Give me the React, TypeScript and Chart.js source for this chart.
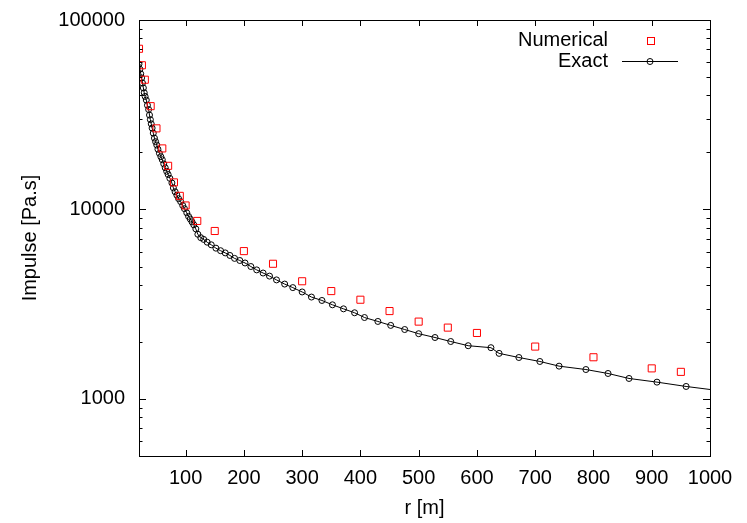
import React, { useEffect, useRef } from 'react';
import { Chart, registerables } from 'chart.js';

Chart.register(...registerables);

// Numerical results (red squares)
const numericalR = [20, 25, 30, 40, 50, 60, 70, 80, 90, 100, 120, 150, 200, 250, 300, 350, 400, 450, 500, 550, 600, 700, 800, 900, 950];
const numericalImpulse = [70500, 57700, 48400, 35100, 26800, 21000, 17000, 13900, 11800, 10500, 8700, 7700, 6030, 5170, 4180, 3710, 3340, 2910, 2560, 2380, 2230, 1890, 1660, 1450, 1390];

// Exact solution (black line with open circles); last entry is where the line leaves the frame
const exactR = [20, 21.5, 23, 24.5, 26, 27.5, 29, 30.5, 32.5, 34.5, 36.5, 38, 39.5, 41, 42.5, 44.5, 46.5, 48.5, 50.5, 52.5, 55, 57.5, 60, 62.5, 65, 67.5, 70, 73, 76.5, 79, 82, 85, 88, 91.5, 95, 98, 102, 105, 108, 111, 114, 117.5, 121, 126, 131, 137, 144, 152, 160, 168, 176, 184, 193, 202, 212, 222, 233, 244, 256, 270, 284, 300, 316, 334, 352, 371, 390, 407, 430, 452, 476, 500, 528, 555, 585, 624, 638, 672, 708, 741, 787, 825, 861, 909, 959, 1000];
const exactImpulse = [58500, 55000, 52000, 49500, 46500, 43800, 41300, 39500, 37800, 35500, 33700, 31500, 29800, 28300, 26900, 25300, 23800, 22800, 21900, 20800, 19800, 19000, 18300, 17400, 16600, 15900, 15300, 14600, 13800, 13000, 12400, 11900, 11400, 11000, 10500, 10100, 9600, 9200, 8900, 8600, 8300, 7900, 7400, 7100, 6950, 6720, 6510, 6250, 6060, 5900, 5720, 5520, 5380, 5220, 5000, 4800, 4620, 4450, 4250, 4040, 3870, 3670, 3450, 3310, 3140, 2990, 2850, 2690, 2565, 2445, 2325, 2210, 2110, 2010, 1910, 1865, 1740, 1655, 1577, 1490, 1430, 1363, 1283, 1227, 1164, 1122];

const xTicks = [100, 200, 300, 400, 500, 600, 700, 800, 900, 1000];
const yTicks = [1000, 10000, 100000];
const yMinorDecades = [100, 1000, 10000];

const FONT = "'Liberation Sans', Arial, Helvetica, sans-serif";

const gnuplotFrame = {
  id: 'gnuplotFrame',
  afterDatasetsDraw(chart: any) {
    const { ctx, chartArea: a, scales } = chart;
    const xs = scales.x;
    const ys = scales.y;
    ctx.save();
    ctx.strokeStyle = '#000';
    ctx.lineWidth = 1;
    ctx.beginPath();
    xTicks.forEach((v) => {
      const px = Math.round(xs.getPixelForValue(v)) + 0.5;
      ctx.moveTo(px, a.bottom);
      ctx.lineTo(px, a.bottom - 6);
      ctx.moveTo(px, a.top);
      ctx.lineTo(px, a.top + 6);
    });
    yTicks.forEach((v) => {
      const py = Math.round(ys.getPixelForValue(v)) + 0.5;
      ctx.moveTo(a.left, py);
      ctx.lineTo(a.left + 7, py);
      ctx.moveTo(a.right, py);
      ctx.lineTo(a.right - 7, py);
    });
    yMinorDecades.forEach((d) => {
      for (let k = 2; k <= 9; k++) {
        const v = d * k;
        if (v < ys.min || v > ys.max) continue;
        const py = Math.round(ys.getPixelForValue(v)) + 0.5;
        ctx.moveTo(a.left, py);
        ctx.lineTo(a.left + 3.5, py);
        ctx.moveTo(a.right, py);
        ctx.lineTo(a.right - 3.5, py);
      }
    });
    ctx.stroke();
    ctx.strokeRect(Math.round(a.left) + 0.5, Math.round(a.top) + 0.5, Math.round(a.right - a.left), Math.round(a.bottom - a.top));
    ctx.restore();
  },
  afterDraw(chart: any) {
    const { ctx, chartArea: a } = chart;
    const ds = chart.data.datasets;
    ctx.save();
    ctx.font = `20px ${FONT}`;
    ctx.fillStyle = '#000';
    ctx.textAlign = 'right';
    ctx.textBaseline = 'middle';
    const textRight = a.right - 102;
    const sampleLeft = a.right - 88;
    const sampleRight = a.right - 32;
    const sampleMid = (sampleLeft + sampleRight) / 2;
    const row1 = a.top + 20;
    const row2 = a.top + 41;
    ctx.fillText(ds[0].label, textRight, row1);
    ctx.fillText(ds[1].label, textRight, row2);
    ctx.strokeStyle = 'red';
    ctx.lineWidth = 1;
    ctx.strokeRect(Math.round(sampleMid - 3.5) + 0.5, Math.round(row1 - 3.5) + 0.5, 7, 7);
    ctx.strokeStyle = '#000';
    ctx.beginPath();
    ctx.moveTo(sampleLeft, Math.round(row2) + 0.5);
    ctx.lineTo(sampleRight, Math.round(row2) + 0.5);
    ctx.stroke();
    ctx.beginPath();
    ctx.arc(sampleMid, Math.round(row2) + 0.5, 3, 0, Math.PI * 2);
    ctx.stroke();
    ctx.restore();
  },
};

export default function App() {
  const canvasRef = useRef<HTMLCanvasElement | null>(null);

  useEffect(() => {
    document.body.style.margin = '0';
    const canvas = canvasRef.current;
    if (!canvas) return;
    const lastExact = exactR.length - 1;
    const chart = new Chart(canvas, {
      type: 'scatter',
      data: {
        datasets: [
          {
            label: 'Numerical',
            data: numericalR.map((r, i) => ({ x: r, y: numericalImpulse[i] })),
            pointStyle: 'rect',
            pointRadius: 5,
            pointBorderWidth: 1,
            pointBorderColor: 'red',
            pointBackgroundColor: 'rgba(0,0,0,0)',
            showLine: false,
          },
          {
            label: 'Exact',
            data: exactR.map((r, i) => ({ x: r, y: exactImpulse[i] })),
            showLine: true,
            borderColor: '#000',
            borderWidth: 1,
            pointStyle: 'circle',
            pointRadius: (c: any) => (c.dataIndex === lastExact ? 0 : 3),
            pointBorderWidth: 1,
            pointBorderColor: '#000',
            pointBackgroundColor: 'rgba(0,0,0,0)',
            tension: 0,
          },
        ],
      },
      options: {
        animation: false,
        responsive: false,
        devicePixelRatio: 1,
        layout: { padding: { top: 20, right: 37, bottom: 0, left: 0 } },
        plugins: {
          legend: { display: false },
          tooltip: { enabled: false },
        },
        scales: {
          x: {
            type: 'linear',
            min: 20,
            max: 1000,
            border: { display: false },
            grid: { display: false, drawTicks: false },
            afterBuildTicks: (s: any) => {
              s.ticks = xTicks.map((v) => ({ value: v }));
            },
            afterFit: (s: any) => {
              s.height = 67;
              s.paddingLeft = 0;
              s.paddingRight = 0;
            },
            ticks: {
              autoSkip: false,
              maxRotation: 0,
              padding: 10,
              color: '#000',
              font: { family: FONT, size: 20 },
              callback: (v: any) => String(v),
            },
            title: {
              display: true,
              text: 'r [m]',
              color: '#000',
              font: { family: FONT, size: 20 },
              padding: { top: 0, bottom: 3 },
            },
          },
          y: {
            type: 'logarithmic',
            min: 500,
            max: 100000,
            border: { display: false },
            grid: { display: false, drawTicks: false },
            afterBuildTicks: (s: any) => {
              s.ticks = yTicks.map((v) => ({ value: v, major: true }));
            },
            afterFit: (s: any) => {
              s.width = 139;
              s.paddingTop = 0;
              s.paddingBottom = 0;
            },
            ticks: {
              autoSkip: false,
              padding: 14,
              color: '#000',
              font: { family: FONT, size: 20 },
              callback: (v: any) => String(v),
            },
            title: {
              display: true,
              text: 'Impulse [Pa.s]',
              color: '#000',
              font: { family: FONT, size: 20 },
              padding: { top: 18, bottom: 0 },
            },
          },
        },
      },
      plugins: [gnuplotFrame],
    } as any);
    return () => chart.destroy();
  }, []);

  return (
    <div style={{ width: 747, height: 523 }}>
      <canvas ref={canvasRef} width={747} height={523} style={{ display: 'block', width: 747, height: 523 }} />
    </div>
  );
}
